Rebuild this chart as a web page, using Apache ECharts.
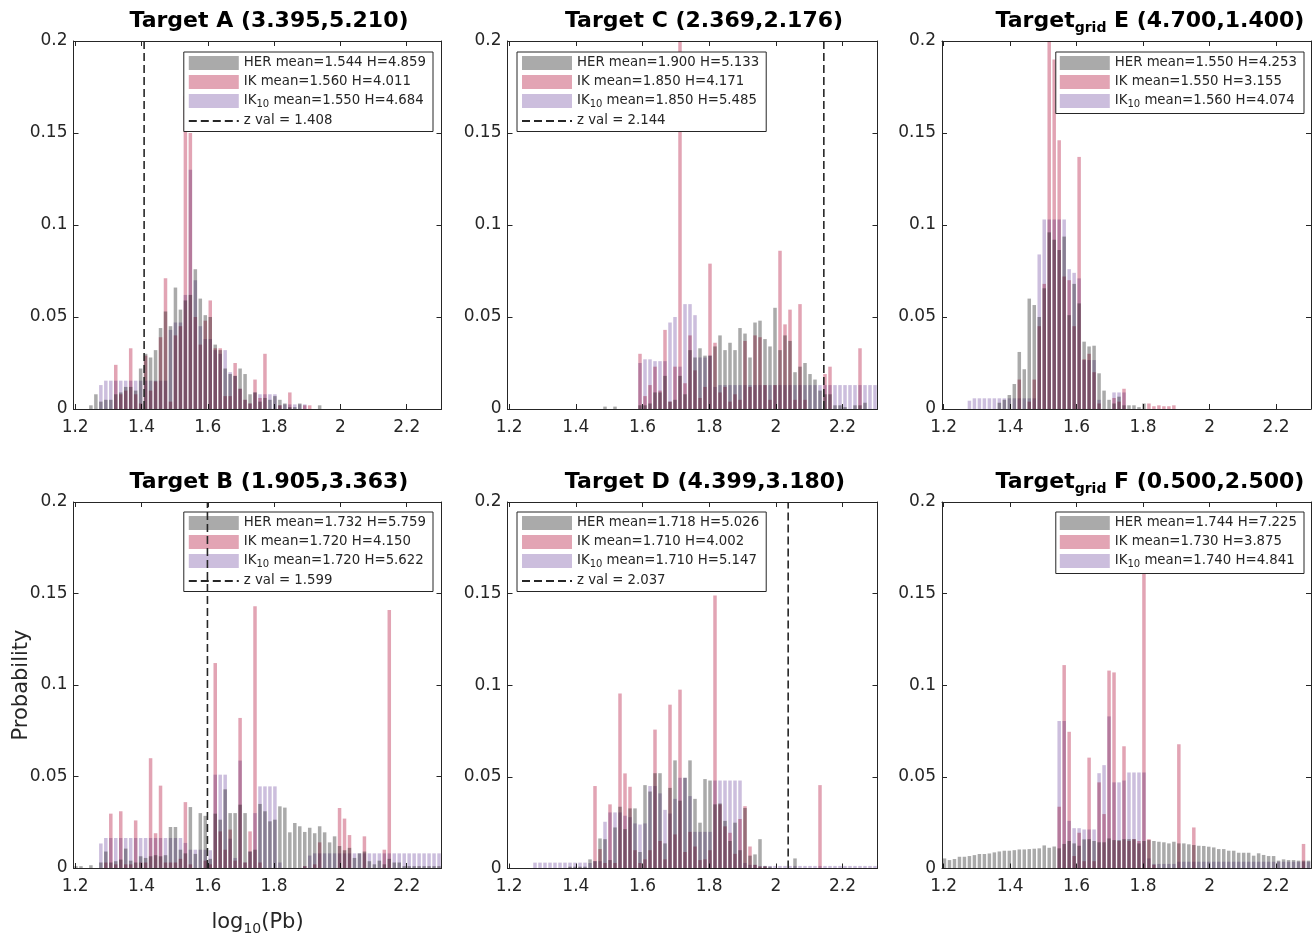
<!DOCTYPE html>
<html>
<head>
<meta charset="utf-8">
<script src="https://cdn.jsdelivr.net/npm/echarts@6/dist/echarts.min.js"></script>
<style>
  html, body { margin: 0; padding: 0; background: #fff; }
  #chart { width: 1315px; height: 937px; }
</style>
</head>
<body>
<div id="chart"></div>
<script>
// histogram bins (log10 Pb)
const binStart = 1.195;
const binWidth = 0.015;
const xTicks = [1.2, 1.4, 1.6, 1.8, 2.0, 2.2];

// panel order: A, C, E (top row) then B, D, F (bottom row)
const titleText = [
  '{b|Target A (3.395,5.210)}',
  '{b|Target C (2.369,2.176)}',
  '{b|Target}{s|grid}{b| E (4.700,1.400)}',
  '{b|Target B (1.905,3.363)}',
  '{b|Target D (4.399,3.180)}',
  '{b|Target}{s|grid}{b| F (0.500,2.500)}'
];
const herLabel = ['mean=1.544 H=4.859', 'mean=1.900 H=5.133', 'mean=1.550 H=4.253',
                  'mean=1.732 H=5.759', 'mean=1.718 H=5.026', 'mean=1.744 H=7.225'];
const ikLabel = ['mean=1.560 H=4.011', 'mean=1.850 H=4.171', 'mean=1.550 H=3.155',
                 'mean=1.720 H=4.150', 'mean=1.710 H=4.002', 'mean=1.730 H=3.875'];
const ik10Label = ['mean=1.550 H=4.684', 'mean=1.850 H=5.485', 'mean=1.560 H=4.074',
                   'mean=1.720 H=5.622', 'mean=1.710 H=5.147', 'mean=1.740 H=4.841'];
const zVals = [1.408, 2.144, null, 1.599, 2.037, null];

const herA = [0,0,0,0.002,0.008,0.004,0.005,0.005,0.008,0.009,
  0.012,0.012,0.010,0.022,0.030,0.028,0.032,0.044,0.053,0.045,
  0.066,0.054,0.059,0.062,0.076,0.060,0.051,0.050,0.035,0.032,
  0.022,0.019,0.018,0.022,0.019,0.008,0.009,0.004,0.006,0.005,
  0.007,0.005,0.003,0.001,0.001,0.003,0,0,0,0.002,
  0,0,0,0,0,0,0,0,0,0, 0,0,0,0,0,0,0,0,0,0, 0,0,0,0];
const ikA = [0,0,0,0,0,0,0,0,0.024,0.008,
  0.010,0.033,0.008,0.003,0.029,0.010,0.015,0.039,0.071,0.004,
  0.040,0.045,0.170,0.150,0.050,0.035,0.048,0.059,0.033,0.033,
  0.007,0.007,0.025,0.011,0.005,0.003,0.016,0.006,0.030,0,
  0,0.002,0,0.009,0,0,0.002,0.002,0,0,
  0,0,0,0,0,0,0,0,0,0, 0,0,0,0,0,0,0,0,0,0, 0,0,0,0];
const ik10A = [0,0,0,0,0,0.013,0.0154,0.0154,0.0154,0.0154,
  0.0154,0.0154,0.0154,0.0154,0.0154,0.0154,0.0154,0.0154,0.0154,0.043,
  0.047,0.047,0.062,0.130,0.070,0.045,0.038,0.038,0.032,0.030,
  0.032,0.020,0.018,0.011,0.005,0.003,0.009,0.008,0.008,0.008,
  0.008,0.002,0.0025,0.0025,0.0025,0.0025,0.0025,0,0,0,
  0,0,0,0,0,0,0,0,0,0, 0,0,0,0,0,0,0,0,0,0, 0,0,0,0];

const herC = [0,0,0,0,0,0,0,0,0,0,
  0,0,0,0,0,0,0,0,0,0.0013,
  0,0.0013,0,0,0,0,0.002,0.002,0.003,0.009,
  0.009,0.018,0.004,0.005,0.018,0.008,0.032,0.028,0.033,0.029,
  0.029,0.034,0.040,0.032,0.036,0.032,0.044,0.041,0.028,0.047,
  0.048,0.038,0.034,0.055,0.032,0.040,0.037,0.020,0.023,0.025,
  0.019,0.016,0.010,0.008,0.008,0.002,0.002,0.001,0,0.002,
  0.002,0.0034,0,0];
const ikC = [0,0,0,0,0,0,0,0,0,0,
  0,0,0,0,0,0,0,0,0,0,
  0,0,0,0,0,0,0.030,0.007,0.013,0.023,
  0.010,0.043,0.004,0.023,0.210,0.014,0.040,0.021,0.006,0.012,
  0.079,0.036,0.009,0.012,0.004,0.008,0.005,0.037,0.012,0.040,
  0.039,0.013,0.005,0.013,0.086,0.046,0.054,0.005,0.057,0.005,
  0,0,0,0.019,0.023,0,0,0,0,0,
  0.033,0,0,0];
const ik10C = [0,0,0,0,0,0,0,0,0,0,
  0,0,0,0,0,0,0,0,0,0,
  0,0,0,0,0,0,0.025,0.027,0.027,0.026,
  0.026,0.026,0.047,0.050,0.023,0.057,0.057,0.051,0.028,0.028,
  0.029,0.012,0.013,0.013,0.013,0.013,0.013,0.013,0.013,0.013,
  0.013,0.013,0.013,0.013,0.013,0.013,0.013,0.013,0.013,0.013,
  0.013,0.013,0.013,0.013,0.013,0.013,0.013,0.013,0.013,0.013,
  0.013,0.013,0.013,0.013];

const herE = [0,0,0,0,0,0,0,0,0,0,
  0,0.0034,0.005,0.0076,0.0136,0.031,0.0216,0.060,0.0565,0.050,
  0.0656,0.096,0.092,0.0864,0.0937,0.051,0.068,0.0574,0.0366,0.034,
  0.0344,0.0194,0.010,0.005,0.003,0.0067,0.002,0.002,0.002,0.001,
  0.003,0,0,0,0,0,0,0,0,0,
  0,0,0,0,0,0,0,0,0,0, 0,0,0,0,0,0,0,0,0,0, 0,0,0,0];
const ikE = [0,0,0,0,0,0,0,0,0,0,
  0,0,0,0,0,0.016,0,0.004,0.016,0.045,
  0.068,0.210,0.190,0.146,0.072,0.070,0.045,0.137,0.027,0.030,
  0.020,0.003,0,0,0.006,0.004,0.011,0,0,0,
  0,0.003,0.0015,0.002,0.0015,0.0015,0.002,0,0,0,
  0,0,0,0,0,0,0,0,0,0, 0,0,0,0,0,0,0,0,0,0, 0,0,0,0];
const ik10E = [0,0,0,0,0,0.0045,0.0058,0.0058,0.0058,0.0058,
  0.0058,0.0058,0.0058,0.0058,0.0058,0.0058,0.0058,0.0058,0.0058,0.084,
  0.103,0.103,0.103,0.103,0.103,0.076,0.074,0.071,0.0266,0.0266,
  0.0266,0.005,0,0,0.009,0.009,0.009,0,0,0,
  0,0,0,0,0,0,0,0,0,0,
  0,0,0,0,0,0,0,0,0,0, 0,0,0,0,0,0,0,0,0,0, 0,0,0,0];

const herB = [0.001,0.001,0,0.0015,0,0.003,0.009,0.003,0.0037,0.0046,
  0.0106,0.004,0.003,0.0064,0.0055,0.0064,0.007,0.0064,0.007,0.0224,
  0.0224,0.010,0.008,0.0333,0.0077,0.030,0.0285,0.005,0.0297,0.0264,
  0.043,0.030,0.030,0.0346,0.030,0.009,0.010,0.035,0.031,0.0255,
  0.0264,0.0337,0.033,0.0195,0.0246,0.0228,0.0197,0.022,0.019,0.0228,
  0.0195,0.014,0.0173,0.012,0.0097,0.011,0.0055,0.008,0.009,0.0037,
  0.002,0.004,0.002,0.005,0.003,0.003,0.001,0.001,0.001,0.001,
  0.001,0.001,0.001,0.001];
const ikB = [0,0,0,0,0,0,0.003,0.0297,0.002,0.031,
  0.002,0.002,0.026,0.003,0.003,0.060,0.019,0.045,0.003,0.003,
  0.003,0.005,0.036,0.002,0,0,0.004,0.002,0.112,0.020,
  0.010,0.021,0.004,0.082,0.003,0.020,0.143,0.003,0,0,
  0,0,0,0,0,0,0.001,0,0.002,0.014,
  0,0,0,0.0328,0.027,0.018,0,0,0.0173,0,
  0,0,0.010,0.141,0,0,0,0,0,0,
  0,0,0,0];
const ik10B = [0,0,0,0,0,0.0134,0.0164,0.0164,0.0164,0.0164,
  0.0164,0.0164,0.0164,0.0164,0.0164,0.0164,0.0164,0.0164,0.0164,0.0164,
  0.0164,0.0164,0.0137,0.010,0.010,0.010,0.010,0.0097,0.051,0.051,
  0.051,0.016,0.0055,0.0587,0.003,0.009,0.030,0.0446,0.0446,0.0446,
  0.0446,0.003,0,0,0,0,0.001,0.0068,0.008,0.008,
  0.008,0.008,0.008,0.008,0.008,0.008,0.008,0.008,0.008,0.008,
  0.008,0.008,0.008,0.008,0.008,0.008,0.008,0.008,0.008,0.008,
  0.008,0.008,0.008,0.008];

const herD = [0,0,0,0,0,0,0,0,0,0,
  0,0,0.001,0.001,0.001,0.001,0.005,0.004,0.0164,0.016,
  0.0046,0.0224,0.0337,0.0215,0.0328,0.0328,0.009,0.0455,0.042,0.052,
  0.052,0.0137,0.044,0.059,0.037,0.0495,0.059,0.038,0.025,0.0488,
  0.048,0.035,0.0355,0.026,0.015,0.025,0.010,0.033,0.007,0.0077,
  0.016,0.0014,0.001,0,0,0,0,0.0055,0,0,
  0,0,0,0,0,0,0,0,0,0, 0,0,0,0];
const ikD = [0,0,0,0,0,0,0,0,0,0,
  0,0,0,0,0,0,0,0.045,0.0106,0.003,
  0.035,0.003,0.0955,0.0519,0.0446,0.010,0.003,0.005,0.010,0.0758,
  0.015,0.005,0.0894,0.0186,0.0976,0.009,0.020,0.012,0.0046,0.005,
  0.010,0.149,0.035,0.023,0.0195,0.008,0.027,0.034,0.012,0.002,
  0.001,0.001,0,0,0,0,0,0,0,0,
  0,0,0.0455,0,0,0,0,0,0,0, 0,0,0,0];
const ik10D = [0,0,0,0,0,0.0032,0.0032,0.0032,0.0032,0.0032,
  0.0032,0.0032,0.0032,0.0032,0.0032,0.0032,0.003,0.004,0.004,0.0255,
  0.0306,0.0306,0.0306,0.0288,0.028,0.0246,0.024,0.0246,0.045,0.045,
  0.041,0.032,0.030,0.038,0.0495,0.0495,0.0395,0.020,0.020,0.020,
  0.020,0.048,0.048,0.048,0.048,0.048,0.048,0.003,0.002,0.002,
  0.0014,0.0014,0.0014,0.0014,0.0014,0.0014,0.0014,0.0014,0.0014,0.0014,
  0.0014,0.0014,0.0014,0.0014,0.0014,0.0014,0.0014,0.0014,0.0014,0.0014,
  0.0014,0.0014,0.0014,0.0014];

const herF = [0.0055,0.0046,0.0052,0.0064,0.0064,0.0068,0.0073,0.0079,0.0079,0.0082,
  0.0088,0.0093,0.0097,0.0097,0.010,0.0104,0.0104,0.0106,0.0108,0.011,
  0.0126,0.0113,0.012,0.011,0.0134,0.015,0.0137,0.0124,0.0159,0.016,
  0.015,0.0143,0.0143,0.0164,0.0155,0.0155,0.016,0.016,0.016,0.0137,
  0.015,0.0155,0.015,0.0146,0.0143,0.0137,0.0146,0.0137,0.0137,0.0132,
  0.0128,0.0124,0.0123,0.0119,0.0115,0.0106,0.0106,0.0097,0.0097,0.0086,
  0.0086,0.0086,0.007,0.0083,0.0074,0.0068,0.0068,0.0043,0.005,0.0046,
  0.0046,0.0043,0.0043,0.0043];
const ikF = [0,0,0,0,0,0,0,0,0,0,
  0,0,0,0,0,0,0,0,0,0,
  0,0,0,0.0337,0.111,0.0746,0.0068,0.0195,0.004,0.0605,
  0.004,0.047,0.0297,0.108,0.107,0.015,0.0667,0.015,0.016,0.015,
  0.163,0.016,0.002,0,0,0,0,0.0678,0,0,
  0.0224,0,0,0,0,0,0,0,0,0,
  0,0,0,0,0,0,0,0,0,0, 0,0,0.0134,0];
const ik10F = [0,0,0,0,0,0,0,0,0,0,
  0,0,0,0,0,0,0,0,0,0,
  0,0,0,0.0805,0.0805,0.026,0.022,0.022,0.0213,0.0213,
  0.0213,0.052,0.0564,0.083,0.047,0.047,0.048,0.0524,0.0524,0.0524,
  0.0524,0.0055,0.0025,0.0025,0.0025,0.0025,0.0025,0.0037,0.0037,0.0037,
  0.0037,0.0037,0.0037,0.0037,0.0037,0.0037,0.0037,0.0037,0.0037,0.0037,
  0.0037,0.0037,0.0037,0.0037,0.0037,0.0037,0.0037,0.0037,0.0037,0.0037,
  0.0037,0.0037,0.0037,0.0037];

const herData = [herA, herC, herE, herB, herD, herF];
const ikData = [ikA, ikC, ikE, ikB, ikD, ikF];
const ik10Data = [ik10A, ik10C, ik10E, ik10B, ik10D, ik10F];

// layout
const boxes = [
  { left: 73.5, top: 41, width: 368, height: 368 },
  { left: 507.5, top: 41, width: 370, height: 368 },
  { left: 942, top: 41, width: 369, height: 368 },
  { left: 73.5, top: 502, width: 368, height: 366.5 },
  { left: 507.5, top: 502, width: 370, height: 366.5 },
  { left: 942, top: 502, width: 369, height: 366.5 }
];
const titleCenter = [269, 704, 1150, 269, 705, 1150];
const legendPos = [
  { right: 882, top: 52 }, { left: 517, top: 52 }, { right: 11, top: 52 },
  { right: 882, top: 512 }, { left: 517, top: 512 }, { right: 11, top: 512 }
];

const font = 'DejaVu Sans';
const ink = '#262626';
const herColor = '#aaaaaa';
const ikColor = '#e2a4b4';
const ik10Color = '#ccbedd';

function toPairs(values) {
  const out = [];
  values.forEach((v, i) => {
    if (v > 0) out.push([binStart + binWidth * (i + 0.5), v]);
  });
  return out;
}

const grids = [], xAxes = [], yAxes = [], series = [], legends = [], titles = [];

boxes.forEach((b, k) => {
  grids.push({ left: b.left, top: b.top, width: b.width, height: b.height });
  const common = {
    gridIndex: k, type: 'value', min: 1.195, max: 2.305,
    axisLine: { show: true, onZero: false, lineStyle: { color: ink, width: 1 } },
    axisTick: { show: true, inside: true, length: 5, customValues: xTicks, lineStyle: { color: ink } },
    splitLine: { show: false }
  };
  xAxes.push(Object.assign({}, common, {
    position: 'bottom',
    axisLabel: { customValues: xTicks, fontSize: 17, color: ink, fontFamily: font, margin: 10 }
  }, k === 3 ? {
    name: '{a|log}{s|10}{a|(Pb)}', nameLocation: 'middle', nameGap: 42, nameMoveOverlap: false,
    nameTextStyle: { rich: {
      a: { fontSize: 21, color: ink, fontFamily: font, lineHeight: 26 },
      s: { fontSize: 14, color: ink, fontFamily: font, verticalAlign: 'bottom', lineHeight: 14 }
    } }
  } : {}));
  xAxes.push(Object.assign({}, common, { position: 'top', axisLabel: { show: false } }));

  const yCommon = {
    gridIndex: k, type: 'value', min: 0, max: 0.2, interval: 0.05,
    axisLine: { show: true, onZero: false, lineStyle: { color: ink, width: 1 } },
    axisTick: { show: true, inside: true, length: 5, lineStyle: { color: ink } },
    splitLine: { show: false }
  };
  yAxes.push(Object.assign({}, yCommon, {
    position: 'left',
    axisLabel: { fontSize: 17, color: ink, fontFamily: font, margin: 6 }
  }, k === 3 ? {
    name: 'Probability', nameLocation: 'middle', nameGap: 41, nameMoveOverlap: false,
    nameTextStyle: { fontSize: 21, color: ink, fontFamily: font }
  } : {}));
  yAxes.push(Object.assign({}, yCommon, { position: 'right', axisLabel: { show: false } }));

  const xi = 2 * k, yi = 2 * k;
  const barBase = {
    type: 'bar', xAxisIndex: xi, yAxisIndex: yi, barWidth: 3.5, barGap: '-100%',
    blendMode: 'multiply', silent: true
  };
  series.push(Object.assign({}, barBase, { name: 'HER', data: toPairs(herData[k]), itemStyle: { color: herColor } }));
  series.push(Object.assign({}, barBase, { name: 'IK', data: toPairs(ikData[k]), itemStyle: { color: ikColor } }));
  series.push(Object.assign({}, barBase, { name: 'IK10', data: toPairs(ik10Data[k]), itemStyle: { color: ik10Color } }));

  const names = [{ name: 'HER', icon: 'rect' }, { name: 'IK', icon: 'rect' }, { name: 'IK10', icon: 'rect' }];
  if (zVals[k] !== null) {
    series.push({
      type: 'line', name: 'z val', xAxisIndex: xi, yAxisIndex: yi,
      data: [[zVals[k], 0], [zVals[k], 0.2]], symbol: 'none', silent: true, z: 5,
      lineStyle: { type: [8, 4], width: 1.6, color: ink }, itemStyle: { color: ink, opacity: 0 }
    });
    names.push({ name: 'z val', itemStyle: { opacity: 0 } });
  }
  const texts = {
    'HER': '{t|HER ' + herLabel[k] + '}',
    'IK': '{t|IK ' + ikLabel[k] + '}',
    'IK10': '{t|IK}{s|10}{t| ' + ik10Label[k] + '}',
    'z val': '{t|z val = ' + (zVals[k] !== null ? zVals[k].toFixed(3) : '') + '}'
  };
  legends.push(Object.assign({
    data: names, orient: 'vertical', itemWidth: 50, itemHeight: 14, itemGap: 5,
    padding: [4, 7, 4, 4], backgroundColor: '#fff', borderColor: ink, borderWidth: 1,
    selectedMode: false,
    formatter: name => texts[name],
    textStyle: { fontSize: 13.3, color: ink, fontFamily: font, rich: {
      t: { fontSize: 13.3, color: ink, fontFamily: font, lineHeight: 17 },
      s: { fontSize: 10, color: ink, fontFamily: font, verticalAlign: 'bottom', lineHeight: 9 }
    } }
  }, legendPos[k]));

  titles.push({
    text: titleText[k], left: titleCenter[k], top: k < 3 ? 7 : 468, textAlign: 'center', padding: 0,
    textStyle: { rich: {
      b: { fontSize: 22, fontWeight: 'bold', color: '#000', fontFamily: font, lineHeight: 28 },
      s: { fontSize: 14, fontWeight: 'bold', color: '#000', fontFamily: font, verticalAlign: 'bottom', lineHeight: 13 }
    } }
  });
});

const chart = echarts.init(document.getElementById('chart'));
chart.setOption({
  backgroundColor: '#fff',
  animation: false,
  title: titles,
  grid: grids,
  xAxis: xAxes,
  yAxis: yAxes,
  legend: legends,
  series: series
});
</script>
</body>
</html>
